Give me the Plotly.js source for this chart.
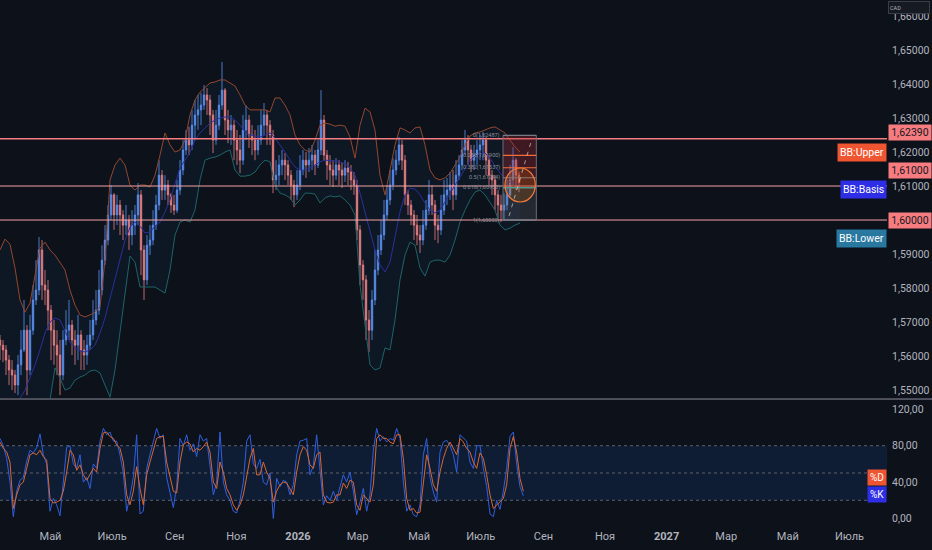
<!DOCTYPE html>
<html><head><meta charset="utf-8">
<script src="https://cdn.plot.ly/plotly-3.0.1.min.js"></script>
<style>html,body{margin:0;padding:0;background:#0d111a;overflow:hidden}#chart{width:932px;height:550px}</style>
</head><body><div id="chart"></div>
<script>
// ---------- DATA ----------
const startDate = '2025-03-12';
const candleStepDays = 2.9703;
const bandStepDays = 4.9505;
const stochStepDays = 3.3003;

const openP = [1.5647,1.5632,1.5618,1.5588,1.5559,1.5544,1.5515,1.5574,1.5618,1.5676,
1.5559,1.5676,1.5765,1.5794,1.5912,1.5809,1.5794,1.5735,1.5676,1.5632,
1.5603,1.5544,1.5647,1.5676,1.5691,1.5647,1.5632,1.5662,1.5618,1.5603,
1.5632,1.5662,1.5706,1.5735,1.5794,1.5882,1.5941,1.6015,1.6074,1.6015,
1.6044,1.6015,1.5985,1.6000,1.5956,1.5985,1.6015,1.6074,1.5912,1.5824,
1.5926,1.5941,1.5985,1.6044,1.6132,1.6088,1.6103,1.6074,1.6044,1.6029,
1.6088,1.6147,1.6206,1.6235,1.6221,1.6279,1.6309,1.6324,1.6338,1.6368,
1.6353,1.6309,1.6235,1.6279,1.6338,1.6382,1.6294,1.6265,1.6279,1.6235,
1.6206,1.6176,1.6265,1.6294,1.6250,1.6235,1.6206,1.6235,1.6279,1.6309,
1.6279,1.6250,1.6118,1.6132,1.6162,1.6176,1.6162,1.6132,1.6103,1.6074,
1.6103,1.6147,1.6176,1.6162,1.6176,1.6191,1.6162,1.6206,1.6294,1.6191,
1.6162,1.6147,1.6132,1.6162,1.6147,1.6132,1.6153,1.6141,1.6118,1.6103,
1.5971,1.5868,1.5824,1.5706,1.5676,1.5765,1.5853,1.5912,1.5956,1.6015,
1.6059,1.6103,1.6147,1.6176,1.6221,1.6176,1.6074,1.6044,1.6015,1.5985,
1.5956,1.5941,1.5985,1.6029,1.6074,1.6044,1.5985,1.5971,1.6029,1.6074,
1.6088,1.6103,1.6074,1.6132,1.6162,1.6206,1.6235,1.6206,1.6176,1.6191,
1.6206,1.6221,1.6235,1.6176,1.6132,1.6118,1.6074,1.6044,1.6029,1.6044,
1.6074,1.6118,1.6176,1.6132];
const highP = [1.5662,1.5647,1.5632,1.5603,1.5588,1.5559,1.5603,1.5676,1.5765,1.5691,
1.5721,1.5809,1.5882,1.5950,1.5941,1.5853,1.5824,1.5750,1.5706,1.5676,
1.5647,1.5676,1.5735,1.5765,1.5706,1.5676,1.5721,1.5676,1.5647,1.5662,
1.5706,1.5765,1.5794,1.5853,1.5926,1.5985,1.6044,1.6103,1.6079,1.6074,
1.6059,1.6029,1.6044,1.6015,1.6029,1.6044,1.6109,1.6088,1.5926,1.5956,
1.5985,1.6029,1.6074,1.6176,1.6147,1.6132,1.6118,1.6079,1.6074,1.6118,
1.6176,1.6235,1.6265,1.6274,1.6324,1.6353,1.6368,1.6374,1.6397,1.6388,
1.6368,1.6324,1.6324,1.6368,1.6465,1.6388,1.6324,1.6309,1.6294,1.6265,
1.6250,1.6309,1.6338,1.6309,1.6279,1.6265,1.6279,1.6324,1.6344,1.6324,
1.6294,1.6265,1.6176,1.6191,1.6206,1.6197,1.6176,1.6147,1.6118,1.6147,
1.6191,1.6206,1.6200,1.6212,1.6221,1.6206,1.6235,1.6382,1.6309,1.6206,
1.6191,1.6176,1.6182,1.6176,1.6168,1.6176,1.6171,1.6162,1.6141,1.6118,
1.5985,1.5882,1.5838,1.5735,1.5794,1.5912,1.5956,1.6000,1.6059,1.6103,
1.6147,1.6182,1.6206,1.6244,1.6235,1.6191,1.6088,1.6059,1.6029,1.6015,
1.5985,1.6029,1.6059,1.6118,1.6103,1.6059,1.6015,1.6074,1.6118,1.6124,
1.6141,1.6147,1.6176,1.6191,1.6235,1.6265,1.6250,1.6221,1.6221,1.6235,
1.6250,1.6259,1.6244,1.6191,1.6147,1.6132,1.6088,1.6074,1.6079,1.6118,
1.6162,1.6215,1.6182,1.6141];
const lowP = [1.5588,1.5582,1.5544,1.5515,1.5500,1.5491,1.5485,1.5544,1.5612,1.5485,
1.5544,1.5662,1.5750,1.5779,1.5765,1.5750,1.5676,1.5588,1.5574,1.5544,
1.5485,1.5529,1.5632,1.5647,1.5603,1.5574,1.5588,1.5559,1.5559,1.5574,
1.5618,1.5647,1.5691,1.5721,1.5779,1.5868,1.5926,1.6000,1.5971,1.5985,
1.5956,1.5941,1.5956,1.5912,1.5926,1.5956,1.5985,1.5838,1.5765,1.5809,
1.5897,1.5926,1.5971,1.6029,1.6059,1.6059,1.6044,1.6021,1.6015,1.6021,
1.6074,1.6132,1.6191,1.6191,1.6206,1.6235,1.6265,1.6279,1.6324,1.6309,
1.6250,1.6197,1.6221,1.6265,1.6324,1.6250,1.6226,1.6221,1.6176,1.6162,
1.6138,1.6162,1.6235,1.6212,1.6191,1.6176,1.6191,1.6221,1.6250,1.6221,
1.6221,1.6079,1.6088,1.6103,1.6132,1.6118,1.6103,1.6059,1.6038,1.6059,
1.6088,1.6132,1.6124,1.6141,1.6147,1.6132,1.6153,1.6191,1.6176,1.6118,
1.6103,1.6097,1.6118,1.6103,1.6094,1.6112,1.6103,1.6088,1.6074,1.5941,
1.5809,1.5765,1.5647,1.5612,1.5647,1.5750,1.5838,1.5897,1.5941,1.6000,
1.6044,1.6088,1.6132,1.6162,1.6147,1.6044,1.6015,1.5985,1.5941,1.5926,
1.5903,1.5926,1.5971,1.6015,1.6015,1.5941,1.5932,1.5956,1.6015,1.6044,
1.6059,1.6029,1.6059,1.6118,1.6147,1.6191,1.6162,1.6141,1.6147,1.6162,
1.6176,1.6176,1.6132,1.6103,1.6074,1.6029,1.6006,1.5994,1.6000,1.6029,
1.6065,1.6103,1.6088,1.6082];
const closeP = [1.5632,1.5618,1.5588,1.5559,1.5544,1.5515,1.5574,1.5618,1.5676,1.5559,
1.5676,1.5765,1.5794,1.5912,1.5809,1.5794,1.5735,1.5676,1.5632,1.5603,
1.5544,1.5647,1.5676,1.5691,1.5647,1.5632,1.5662,1.5618,1.5603,1.5632,
1.5662,1.5706,1.5735,1.5794,1.5882,1.5941,1.6015,1.6074,1.6015,1.6044,
1.6015,1.5985,1.6000,1.5956,1.5985,1.6015,1.6074,1.5912,1.5824,1.5926,
1.5941,1.5985,1.6044,1.6132,1.6088,1.6103,1.6074,1.6044,1.6029,1.6088,
1.6147,1.6206,1.6235,1.6221,1.6279,1.6309,1.6324,1.6338,1.6368,1.6353,
1.6309,1.6235,1.6279,1.6338,1.6382,1.6294,1.6265,1.6279,1.6235,1.6206,
1.6176,1.6265,1.6294,1.6250,1.6235,1.6206,1.6235,1.6279,1.6309,1.6279,
1.6250,1.6118,1.6132,1.6162,1.6176,1.6162,1.6132,1.6103,1.6074,1.6103,
1.6147,1.6176,1.6162,1.6176,1.6191,1.6162,1.6206,1.6294,1.6191,1.6162,
1.6147,1.6132,1.6162,1.6147,1.6132,1.6153,1.6141,1.6118,1.6103,1.5971,
1.5868,1.5824,1.5706,1.5676,1.5765,1.5853,1.5912,1.5956,1.6015,1.6059,
1.6103,1.6147,1.6176,1.6221,1.6176,1.6074,1.6044,1.6015,1.5985,1.5956,
1.5941,1.5985,1.6029,1.6074,1.6044,1.5985,1.5971,1.6029,1.6074,1.6088,
1.6103,1.6074,1.6132,1.6162,1.6206,1.6235,1.6206,1.6176,1.6191,1.6206,
1.6221,1.6235,1.6176,1.6132,1.6118,1.6074,1.6044,1.6029,1.6044,1.6074,
1.6118,1.6176,1.6132,1.6109];

const bbUpper = [1.5912,1.5944,1.5929,1.5859,1.5765,1.5729,1.5756,1.5835,1.5918,1.5935,
1.5912,1.5897,1.5876,1.5853,1.5794,1.5750,1.5721,1.5715,1.5721,1.5729,
1.5744,1.5882,1.6118,1.6162,1.6182,1.6162,1.6103,1.6088,1.6103,1.6103,
1.6097,1.6132,1.6191,1.6256,1.6221,1.6200,1.6206,1.6235,1.6309,1.6353,
1.6376,1.6391,1.6403,1.6406,1.6412,1.6412,1.6403,1.6394,1.6368,1.6338,
1.6324,1.6324,1.6324,1.6324,1.6318,1.6359,1.6359,1.6338,1.6309,1.6250,
1.6221,1.6206,1.6200,1.6235,1.6279,1.6285,1.6282,1.6276,1.6279,1.6276,
1.6244,1.6182,1.6279,1.6329,1.6318,1.6265,1.6132,1.6074,1.6147,1.6221,
1.6271,1.6265,1.6256,1.6271,1.6274,1.6221,1.6147,1.6124,1.6118,1.6124,
1.6138,1.6162,1.6185,1.6221,1.6247,1.6256,1.6259,1.6265,1.6271,1.6274,
1.6265,1.6256,1.6235,1.6215,1.6200];
const bbBasis = [1.5435,1.5441,1.5447,1.5459,1.5476,1.5500,1.5535,1.5574,1.5618,1.5668,
1.5700,1.5712,1.5706,1.5676,1.5641,1.5624,1.5615,1.5612,1.5618,1.5632,
1.5668,1.5712,1.5771,1.5829,1.5888,1.5941,1.5979,1.5994,1.5982,1.5962,
1.5965,1.5982,1.5994,1.6024,1.6059,1.6103,1.6153,1.6176,1.6200,1.6235,
1.6256,1.6271,1.6285,1.6294,1.6300,1.6303,1.6303,1.6294,1.6279,1.6259,
1.6250,1.6247,1.6244,1.6250,1.6256,1.6241,1.6221,1.6200,1.6176,1.6156,
1.6147,1.6147,1.6153,1.6162,1.6171,1.6176,1.6176,1.6174,1.6171,1.6165,
1.6153,1.6132,1.6079,1.6021,1.5962,1.5912,1.5868,1.5847,1.5876,1.5947,
1.6024,1.6074,1.6094,1.6091,1.6074,1.6050,1.6029,1.6021,1.6029,1.6053,
1.6079,1.6103,1.6126,1.6153,1.6176,1.6188,1.6194,1.6197,1.6182,1.6159,
1.6138,1.6124,1.6112,1.6106,1.6106];
const bbLower = [1.4999,1.5029,1.5059,1.5088,1.5118,1.5162,1.5221,1.5279,1.5324,1.5397,
1.5471,1.5565,1.5535,1.5500,1.5506,1.5529,1.5538,1.5544,1.5556,1.5559,
1.5550,1.5515,1.5479,1.5559,1.5676,1.5794,1.5894,1.5876,1.5803,1.5803,
1.5803,1.5803,1.5794,1.5785,1.5853,1.5956,1.5994,1.6000,1.5994,1.6029,
1.6118,1.6176,1.6182,1.6185,1.6191,1.6200,1.6206,1.6147,1.6129,1.6129,
1.6132,1.6141,1.6162,1.6176,1.6171,1.6103,1.6079,1.6074,1.6065,1.6044,
1.6059,1.6079,1.6079,1.6076,1.6050,1.6065,1.6071,1.6068,1.6071,1.6059,
1.6044,1.6015,1.5809,1.5691,1.5574,1.5559,1.5565,1.5624,1.5618,1.5706,
1.5824,1.5897,1.5935,1.5926,1.5859,1.5835,1.5876,1.5882,1.5882,1.5876,
1.5897,1.5941,1.5994,1.6029,1.6059,1.6082,1.6088,1.6074,1.6053,1.6029,
1.5985,1.5971,1.5976,1.5985,1.5991];

const stochK = [88,80,66,40,2,30,42,45,63,75,
72,78,93,70,60,8,22,15,3,45,
78,80,60,55,70,40,45,33,60,55,
85,99,92,95,85,85,70,50,8,25,
45,92,5,8,55,70,85,99,88,92,
45,30,12,35,88,80,92,75,82,68,
92,85,88,58,26,40,95,40,26,20,
8,6,20,40,85,92,60,55,65,40,
37,50,0,44,35,42,40,26,37,70,
85,86,88,48,58,92,55,15,25,20,
30,20,35,48,40,51,30,4,18,33,
8,26,75,99,85,90,84,88,86,99,
88,40,8,15,4,2,15,70,88,45,
29,18,73,84,86,80,70,51,92,88,
85,62,55,80,80,55,35,5,2,20,
10,30,55,90,95,60,35,25];
const stochD = [84,77,73,62,11,26,37,40,55,70,
72,70,75,68,64,22,17,18,20,30,
51,75,70,53,59,48,42,48,55,51,
77,94,95,90,88,81,77,62,26,15,
30,57,33,15,48,62,75,88,90,90,
62,44,30,28,62,81,84,82,73,77,
75,79,84,73,40,33,62,51,33,26,
15,9,15,26,44,66,77,48,48,62,
51,44,18,30,37,40,39,33,26,51,
70,79,75,59,55,70,73,26,18,17,
18,26,26,39,33,42,40,15,9,26,
22,18,37,88,92,88,88,84,82,92,
92,66,22,9,11,6,7,37,70,55,
37,30,51,66,77,84,77,70,88,84,
77,73,62,55,72,66,48,26,11,15,
18,22,37,77,90,73,44,30];

const hLinePrices = [1.6239, 1.6100, 1.6000];
const priceTicks = [1.55,1.56,1.57,1.58,1.59,1.61,1.62,1.63,1.64,1.65,1.66];
const stochTicks = [0,40,80,120];
const stochLevels = [20,50,80];
const monthTickDates = ['2025-05-01','2025-07-01','2025-09-01','2025-11-01','2026-01-01','2026-03-01','2026-05-01','2026-07-01','2026-09-01','2026-11-01','2027-01-01','2027-03-01','2027-05-01','2027-07-01'];
const monthLabels = ['Май','Июль','Сен','Ноя','2026','Мар','Май','Июль','Сен','Ноя','2027','Мар','Май','Июль'];

const fibDates = ['2026-07-23','2026-08-25'];
const fibRatios = [0, 0.236, 0.382, 0.5, 0.618, 1];
const fibPrices = [1.62487, 1.61900, 1.61537, 1.61244, 1.60950, 1.60000];
const circleDates = ['2026-07-25','2026-08-24'];
const circlePrices = [1.6053, 1.6153];
const arrowDates = ['2026-07-29','2026-08-20'];
const arrowPrices = [1.6012, 1.6232];

// ---------- BUILD ----------
const DAY = 86400000;
const t0 = Date.parse(startDate + 'T00:00:00Z');
const fmt = t => new Date(t).toISOString().slice(0,19).replace('T',' ');
const dates = (n, step) => Array.from({length:n}, (_, i) => fmt(t0 + i*step*DAY));
const xEnd = fmt(t0 + 878.2*DAY);

const candleX = dates(closeP.length, candleStepDays);
const bandX = dates(bbUpper.length, bandStepDays);
const stochX = dates(stochK.length, stochStepDays);

const FONT = 'Roboto, "Noto Sans", sans-serif';
const TXT = '#b2b5be';
const UP = '#5f92f2', DOWN = '#f5827f';

const traces = [
  {type:'scatter', mode:'lines', x:bandX, y:bbUpper, line:{color:'#93472e', width:1}, hoverinfo:'skip', xaxis:'x', yaxis:'y'},
  {type:'scatter', mode:'lines', x:bandX, y:bbLower, line:{color:'#1d6468', width:1}, fill:'tonexty', fillcolor:'rgba(33,150,243,0.055)', hoverinfo:'skip', xaxis:'x', yaxis:'y'},
  {type:'scatter', mode:'lines', x:bandX, y:bbBasis, line:{color:'#2b2f9c', width:1}, hoverinfo:'skip', xaxis:'x', yaxis:'y'},
  {type:'candlestick', x:candleX, open:openP, high:highP, low:lowP, close:closeP,
   increasing:{line:{color:UP, width:0.8}, fillcolor:UP},
   decreasing:{line:{color:DOWN, width:0.8}, fillcolor:DOWN},
   whiskerwidth:0,
   hoverinfo:'skip', xaxis:'x', yaxis:'y'},
  {type:'scatter', mode:'lines', x:stochX, y:stochK, line:{color:'#2f5fe0', width:1}, hoverinfo:'skip', xaxis:'x', yaxis:'y2'},
  {type:'scatter', mode:'lines', x:stochX, y:stochD, line:{color:'#d9672f', width:1}, hoverinfo:'skip', xaxis:'x', yaxis:'y2'}
];

const shapes = [];
// stochastic band + levels
shapes.push({type:'rect', xref:'paper', x0:0, x1:1, yref:'y2', y0:stochLevels[0], y1:stochLevels[2], fillcolor:'rgba(33,120,243,0.12)', line:{width:0}, layer:'below'});
stochLevels.forEach(v => shapes.push({type:'line', xref:'paper', x0:0, x1:1, yref:'y2', y0:v, y1:v, line:{color:'#5d606b', width:1, dash:'3px,3px'}, layer:'below'}));
// pane separator
shapes.push({type:'line', xref:'paper', x0:0, x1:1.051, yref:'paper', y0:0.2356, y1:0.2356, line:{color:'#8d909a', width:1}});
// horizontal price lines
hLinePrices.forEach((p, i) => shapes.push({type:'line', xref:'paper', x0:0, x1:1, yref:'y', y0:p, y1:p, line:{color: i===0 ? '#f77c80' : '#f4a3a5', width: i===0 ? 1.6 : 1}, layer:'above'}));
// fib / position tool
shapes.push({type:'rect', xref:'x', x0:fibDates[0], x1:fibDates[1], yref:'y', y0:fibPrices[4], y1:fibPrices[0], fillcolor:'rgba(170,45,50,0.32)', line:{color:'#6b6e78', width:1}, layer:'above'});
shapes.push({type:'rect', xref:'x', x0:fibDates[0], x1:fibDates[1], yref:'y', y0:fibPrices[5], y1:fibPrices[4], fillcolor:'rgba(120,123,134,0.22)', line:{color:'#6b6e78', width:1}, layer:'above'});
const fibColors = ['#787b86','#f26b38','#f26b38','#787b86','#26a0b0','#787b86'];
fibPrices.forEach((p, i) => shapes.push({type:'line', xref:'x', x0:fibDates[0], x1:fibDates[1], yref:'y', y0:p, y1:p, line:{color:fibColors[i], width:1.2}, layer:'above'}));
shapes.push({type:'circle', xref:'x', x0:circleDates[0], x1:circleDates[1], yref:'y', y0:circlePrices[0], y1:circlePrices[1], fillcolor:'rgba(245,124,0,0.18)', line:{color:'#f07a3a', width:1.2}, layer:'above'});
shapes.push({type:'line', xref:'x', x0:arrowDates[0], x1:arrowDates[1], yref:'y', y0:arrowPrices[0], y1:arrowPrices[1], line:{color:'rgba(255,255,255,0.55)', width:1, dash:'4px,5px'}, layer:'above'});

const num = (v, d) => v.toFixed(d).replace('.', ',');
const annotations = [];
// price-line labels on the axis
const hShifts = [6, 15.5, 0];
hLinePrices.forEach((p, i) => annotations.push({xref:'paper', x:1, xanchor:'left', xshift:1, yref:'y', y:p, yshift:hShifts[i], text:num(p,5), showarrow:false, bgcolor:'#f77c80', font:{family:FONT, size:10.5, color:'#131722'}, width:40, height:13, borderpad:1}));
// BB labels
const bbLab = [
  {t:'BB:Upper', v:bbUpper[bbUpper.length-1], c:'#ee5530', s:0},
  {t:'BB:Basis', v:bbBasis[bbBasis.length-1], c:'#2d2ee6', s:-5.5},
  {t:'BB:Lower', v:bbLower[bbLower.length-1], c:'#2878a0', s:-15.5}
];
bbLab.forEach(b => annotations.push({xref:'paper', x:1, xanchor:'right', yref:'y', y:b.v, yshift:b.s, text:b.t, showarrow:false, bgcolor:b.c, font:{family:FONT, size:10.5, color:'#ffffff'}, borderpad:2}));
// stochastic labels
annotations.push({xref:'paper', x:1, xanchor:'right', yref:'y2', y:stochD[stochD.length-1], yshift:14, text:'%D', showarrow:false, bgcolor:'#ee5530', font:{family:FONT, size:10, color:'#fff'}, borderpad:2});
annotations.push({xref:'paper', x:1, xanchor:'right', yref:'y2', y:stochK[stochK.length-1], yshift:1.5, text:'%K', showarrow:false, bgcolor:'#2d2ee6', font:{family:FONT, size:10, color:'#fff'}, borderpad:2});
// currency box
annotations.push({xref:'paper', x:1, xanchor:'left', xshift:1, yref:'paper', y:1, yanchor:'top', yshift:-1, text:'CAD', showarrow:false, align:'left', bgcolor:'#161a23', bordercolor:'#3a3e48', borderwidth:1, font:{family:FONT, size:5.5, color:'#b2b5be'}, width:38, height:9});
// fib labels
fibPrices.forEach((p, i) => annotations.push({xref:'x', x:fibDates[0], xanchor:'right', xshift:-1, yref:'y', y:p, text:fibRatios[i] + '(' + num(p,5) + ')', showarrow:false, font:{family:FONT, size:5.5, color:'#8a8d96'}}));

const layout = {
  width:932, height:550,
  margin:{l:0, r:45, t:0, b:28},
  paper_bgcolor:'#0d111a', plot_bgcolor:'#0d111a',
  separators:', ',
  showlegend:false,
  font:{family:FONT, color:TXT},
  xaxis:{type:'date', range:[startDate, xEnd], anchor:'y2', showgrid:false, zeroline:false, showline:false,
    tickmode:'array', tickvals:monthTickDates, ticktext:monthLabels.map(t => /^\d{4}$/.test(t) ? '<b>'+t+'</b>' : t),
    tickfont:{family:FONT, size:11, color:TXT}, ticks:'', ticklabelstandoff:6, rangeslider:{visible:false}, fixedrange:true},
  yaxis:{domain:[0.2375, 1], range:[1.54765, 1.66471], side:'right', showgrid:false, zeroline:false, showline:false,
    tickmode:'array', tickvals:priceTicks, tickformat:'.5f', ticks:'', tickfont:{family:FONT, size:10.5, color:TXT}, ticklabelstandoff:4},
  yaxis2:{domain:[0, 0.2337], range:[-3.85, 130.2], side:'right', showgrid:false, zeroline:false, showline:false,
    tickmode:'array', tickvals:stochTicks, tickformat:'.2f', ticks:'', tickfont:{family:FONT, size:10.5, color:TXT}, ticklabelstandoff:4},
  shapes:shapes,
  annotations:annotations
};

Plotly.newPlot('chart', traces, layout, {staticPlot:true, displayModeBar:false});
</script>
</body></html>
